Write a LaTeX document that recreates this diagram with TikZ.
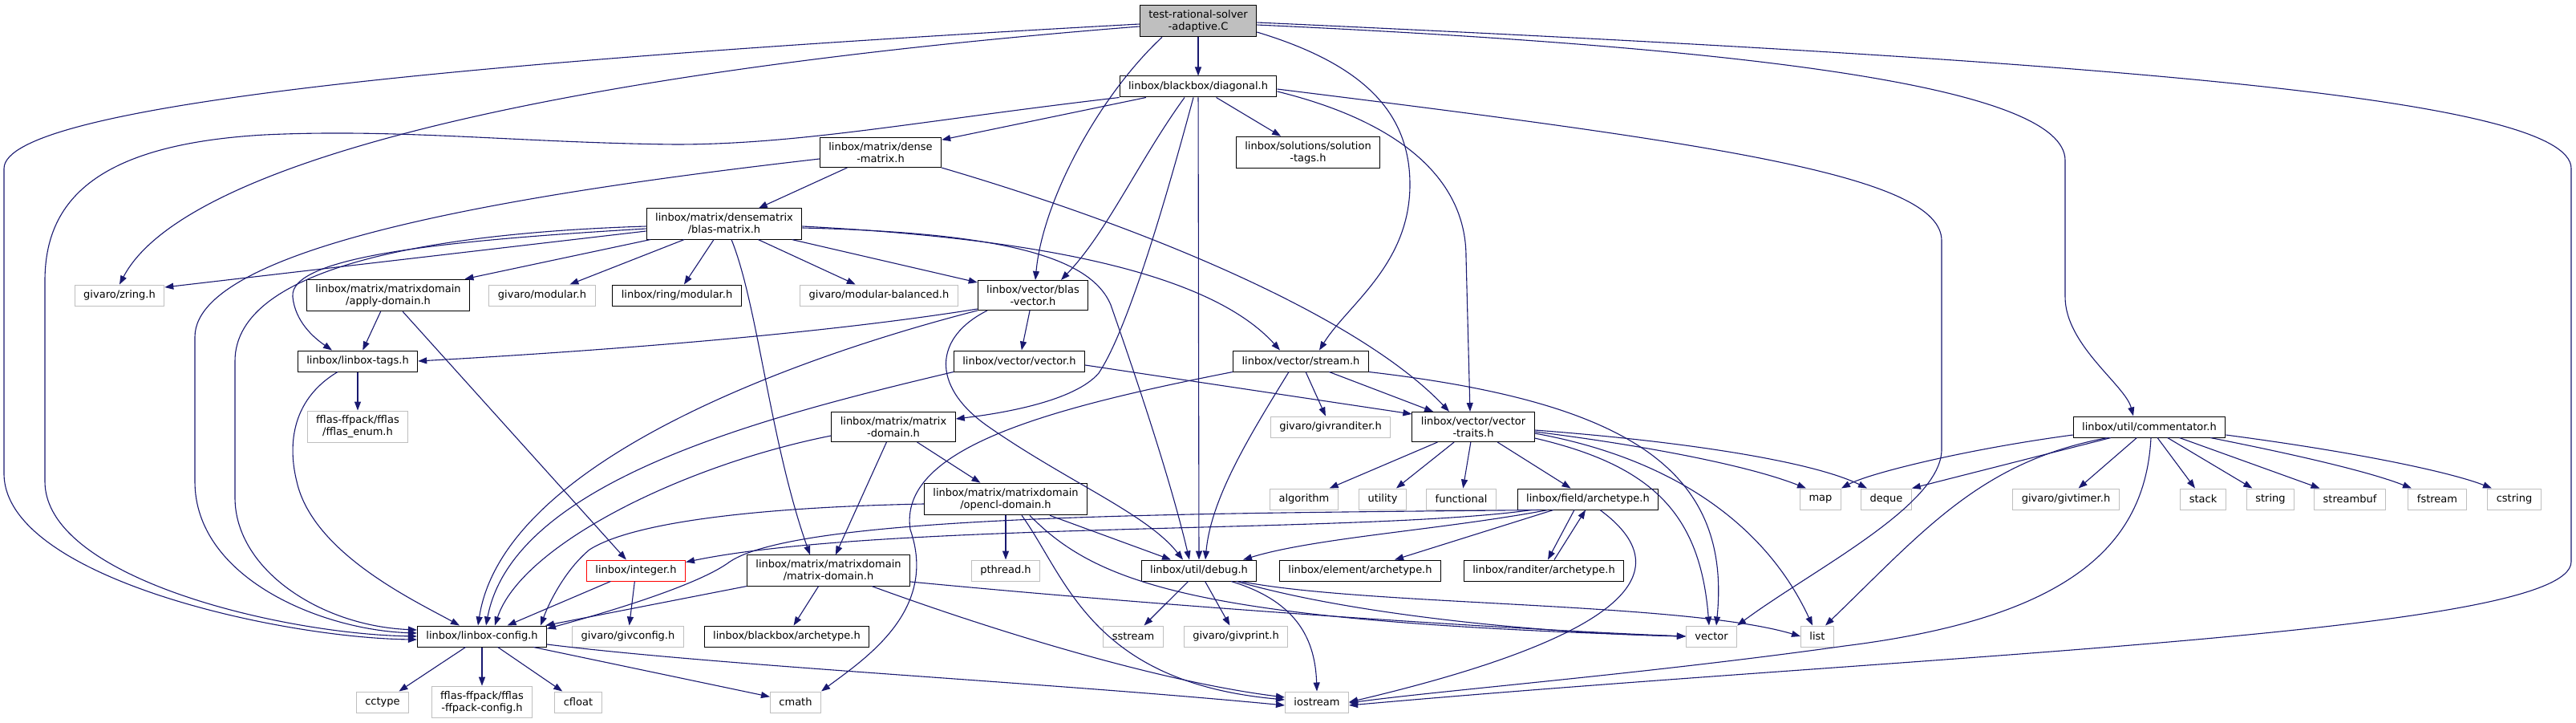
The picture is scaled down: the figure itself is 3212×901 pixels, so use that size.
\documentclass[tikz,border=0pt]{standalone}
\usepackage{fontspec}
\setmainfont{DejaVu Sans}
\usetikzlibrary{arrows.meta}
\definecolor{depblue}{HTML}{191970}
\definecolor{sysgrey}{HTML}{BFBFBF}

\begin{document}
\begin{tikzpicture}[x=1pt, y=-1pt,
	filebox/.style={draw=black, fill=white, line width=1pt, align=center, inner xsep=11pt, inner ysep=6pt, minimum height=26pt, font=\fontsize{13}{15}\selectfont},
	sysbox/.style={filebox, draw=sysgrey},
	dep/.style={draw=depblue, line width=1.1pt, -{Triangle[length=11pt, width=8pt]}}]
	\useasboundingbox (0,0) rectangle (3212,901);
	\node[filebox, fill=sysgrey] (root) at (1494,26) {test-rational-solver\\-adaptive.C};
	\node[filebox] (diag) at (1494,108) {linbox/blackbox/diagonal.h};
	\node[filebox] (dense) at (1098,190) {linbox/matrix/dense\\-matrix.h};
	\node[filebox] (soltags) at (1631,190) {linbox/solutions/solution\\-tags.h};
	\node[filebox] (blasm) at (903,279) {linbox/matrix/densematrix\\/blas-matrix.h};
	\node[sysbox] (zring) at (149,368) {givaro/zring.h};
	\node[filebox] (applyd) at (484,368) {linbox/matrix/matrixdomain\\/apply-domain.h};
	\node[sysbox] (gmod) at (676,368) {givaro/modular.h};
	\node[filebox] (rmod) at (844,368) {linbox/ring/modular.h};
	\node[sysbox] (gmodbal) at (1096,368) {givaro/modular-balanced.h};
	\node[filebox] (blasv) at (1288,368) {linbox/vector/blas\\-vector.h};
	\node[filebox] (tags) at (446,450) {linbox/linbox-tags.h};
	\node[filebox] (vectorh) at (1271,450) {linbox/vector/vector.h};
	\node[filebox] (stream) at (1622,450) {linbox/vector/stream.h};
	\node[sysbox] (enum) at (446,532) {fflas-ffpack/fflas\\/fflas\_enum.h};
	\node[filebox] (mdom) at (1114,532) {linbox/matrix/matrix\\-domain.h};
	\node[sysbox] (granditer) at (1659,532) {givaro/givranditer.h};
	\node[filebox] (vtraits) at (1837,532) {linbox/vector/vector\\-traits.h};
	\node[filebox] (comm) at (2680,532) {linbox/util/commentator.h};
	\node[filebox] (opencl) at (1254,622) {linbox/matrix/matrixdomain\\/opencl-domain.h};
	\node[sysbox] (algorithm) at (1626,622) {algorithm};
	\node[sysbox] (utility) at (1724,622) {utility};
	\node[sysbox] (functional) at (1822,622) {functional};
	\node[filebox] (farch) at (1980,622) {linbox/field/archetype.h};
	\node[sysbox] (map) at (2270,622) {map};
	\node[sysbox] (deque) at (2352,622) {deque};
	\node[sysbox] (givtimer) at (2576,622) {givaro/givtimer.h};
	\node[sysbox] (stack) at (2747,622) {stack};
	\node[sysbox] (string) at (2831,622) {string};
	\node[sysbox] (streambuf) at (2930,622) {streambuf};
	\node[sysbox] (fstream) at (3039,622) {fstream};
	\node[sysbox] (cstring) at (3135,622) {cstring};
	\node[filebox, draw=red] (integer) at (793,711) {linbox/integer.h};
	\node[filebox] (mdomain) at (1033,711) {linbox/matrix/matrixdomain\\/matrix-domain.h};
	\node[sysbox] (pthread) at (1254,711) {pthread.h};
	\node[filebox] (debug) at (1495,711) {linbox/util/debug.h};
	\node[filebox] (earch) at (1696,711) {linbox/element/archetype.h};
	\node[filebox] (rarch) at (1925,711) {linbox/randiter/archetype.h};
	\node[filebox] (config) at (601,793) {linbox/linbox-config.h};
	\node[sysbox] (givconfig) at (783,793) {givaro/givconfig.h};
	\node[filebox] (bbarch) at (981,793) {linbox/blackbox/archetype.h};
	\node[sysbox] (sstream) at (1413,793) {sstream};
	\node[sysbox] (givprint) at (1541,793) {givaro/givprint.h};
	\node[sysbox] (vector) at (2134,793) {vector};
	\node[sysbox] (list) at (2266,793) {list};
	\node[sysbox] (cctype) at (477,875) {cctype};
	\node[sysbox] (ffconfig) at (601,875) {fflas-ffpack/fflas\\-ffpack-config.h};
	\node[sysbox] (cfloat) at (721,875) {cfloat};
	\node[sysbox] (cmath) at (992,875) {cmath};
	\node[sysbox] (iostream) at (1642,875) {iostream};
	\draw[dep] (root) -- (diag);
	\draw[dep] ([yshift=-4pt]root.west) .. controls (600,75) and (5,130) .. (5,210) -- (5,590) .. controls (5,720) and (350,795) .. ([yshift=-4pt]config.west);
	\draw[dep] ([yshift=-7pt]root.west) .. controls (700,90) and (230,200) .. (zring.north);
	\draw[dep] ([xshift=-45pt]root.south) .. controls (1370,120) and (1300,250) .. ([xshift=3pt]blasv.north);
	\draw[dep] ([yshift=-14pt]root.east) .. controls (1700,80) and (1758,140) .. (1758,230) .. controls (1758,330) and (1680,380) .. ([xshift=23pt]stream.north);
	\draw[dep] ([yshift=-5pt]root.east) .. controls (2200,60) and (2575,110) .. (2575,200) -- (2575,370) .. controls (2575,430) and (2650,480) .. ([xshift=-20pt]comm.north);
	\draw[dep] ([yshift=-2pt]root.east) .. controls (2600,75) and (3206,120) .. (3206,210) -- (3206,700) .. controls (3206,790) and (2400,815) .. ([yshift=-4pt]iostream.east);
	\draw[dep] (diag) -- (dense);
	\draw[dep] (diag) -- (soltags);
	\draw[dep] ([xshift=-17pt]diag.south) .. controls (1420,200) and (1380,290) .. ([xshift=35pt]blasv.north);
	\draw[dep] ([xshift=-6pt]diag.south) .. controls (1440,300) and (1400,420) .. (1370,465) .. controls (1340,500) and (1250,515) .. ([yshift=10pt]mdom.east);
	\draw[dep] (diag) -- (debug);
	\draw[dep] ([yshift=-6pt]diag.east) .. controls (1740,150) and (1828,220) .. (1828,320) -- ([xshift=-4pt]vtraits.north);
	\draw[dep] ([yshift=-3pt]diag.east) .. controls (2150,180) and (2421,220) .. (2421,300) -- (2421,560) .. controls (2421,630) and (2260,710) .. (vector.north east);
	\draw[dep] (diag.south west) .. controls (1150,150) and (1000,180) .. (842,180) .. controls (650,178) and (500,160) .. (330,168) .. controls (120,180) and (56,250) .. (56,350) -- (56,600) .. controls (56,720) and (350,790) .. (config.west);
	\draw[dep] (dense) -- (blasm);
	\draw[dep] ([yshift=-8pt]dense.west) .. controls (700,235) and (243,300) .. (243,420) -- (243,600) .. controls (243,720) and (400,785) .. ([yshift=4pt]config.west);
	\draw[dep] (dense.south east) .. controls (1450,290) and (1700,400) .. ([xshift=-30pt]vtraits.north);
	\draw[dep] ([yshift=-9pt]blasm.west) -- ([yshift=10pt]zring.east);
	\draw[dep] ([yshift=-6pt]blasm.west) .. controls (550,300) and (360,320) .. (365,370) .. controls (368,400) and (390,420) .. ([xshift=-32pt]tags.north);
	\draw[dep] ([yshift=-3pt]blasm.west) .. controls (550,290) and (293,330) .. (293,450) -- (293,620) .. controls (293,710) and (400,780) .. ([yshift=8pt]config.west);
	\draw[dep] (blasm) -- (applyd);
	\draw[dep] (blasm) -- (gmod);
	\draw[dep] (blasm) -- (rmod);
	\draw[dep] ([xshift=9pt]blasm.south) .. controls (945,380) and (960,550) .. ([xshift=-23pt]mdomain.north);
	\draw[dep] (blasm) -- (gmodbal);
	\draw[dep] (blasm) -- (blasv);
	\draw[dep] ([yshift=-3pt]blasm.east) .. controls (1250,295) and (1500,330) .. ([xshift=-26pt]stream.north);
	\draw[dep] ([yshift=-5pt]blasm.east) .. controls (1250,290) and (1360,320) .. (1385,380) .. controls (1420,480) and (1460,600) .. ([xshift=-12pt]debug.north);
	\draw[dep] (applyd) -- (tags);
	\draw[dep] (applyd) -- (integer);
	\draw[dep] ([yshift=-17pt]blasv.west) .. controls (1000,420) and (700,440) .. (tags.east);
	\draw[dep] (blasv.south west) .. controls (1050,430) and (630,560) .. ([xshift=-5pt]config.north);
	\draw[dep] (blasv) -- (vectorh);
	\draw[dep] ([xshift=-57pt]blasv.south) .. controls (1165,420) and (1160,480) .. (1230,530) .. controls (1330,600) and (1430,640) .. ([xshift=-20pt]debug.north);
	\draw[dep] (tags) -- (enum);
	\draw[dep] ([xshift=-25pt]tags.south) .. controls (360,500) and (360,560) .. (370,600) .. controls (390,690) and (520,750) .. ([xshift=-28pt]config.north);
	\draw[dep] (vectorh.south west) .. controls (950,520) and (640,600) .. ([xshift=5pt]config.north);
	\draw[dep] ([yshift=-5pt]vectorh.east) -- ([yshift=-3pt]vtraits.north west);
	\draw[dep] (stream) -- (vtraits);
	\draw[dep] (stream) -- (granditer);
	\draw[dep] ([xshift=-15pt]stream.south) .. controls (1560,540) and (1510,620) .. ([xshift=8pt]debug.north);
	\draw[dep] (stream.south west) .. controls (1300,510) and (1120,560) .. (1135,660) .. controls (1170,760) and (1080,820) .. (cmath.north east);
	\draw[dep] (stream.south east) .. controls (2020,500) and (2160,580) .. ([xshift=6pt]vector.north);
	\draw[dep] (mdom) -- (opencl);
	\draw[dep] (mdom) -- (mdomain);
	\draw[dep] ([yshift=-11pt]mdom.west) .. controls (850,580) and (650,680) .. ([xshift=16pt]config.north);
	\draw[dep] (vtraits) -- (algorithm);
	\draw[dep] (vtraits) -- (utility);
	\draw[dep] (vtraits) -- (functional);
	\draw[dep] (vtraits) -- (farch);
	\draw[dep] ([yshift=-6pt]vtraits.east) .. controls (2050,555) and (2180,580) .. ([xshift=-18pt]map.north);
	\draw[dep] ([yshift=-4pt]vtraits.east) .. controls (2100,550) and (2260,575) .. ([xshift=-24pt]deque.north);
	\draw[dep] ([yshift=-8pt]vtraits.east) .. controls (2080,570) and (2200,650) .. ([xshift=-6pt]list.north);
	\draw[dep] ([yshift=-14pt]vtraits.east) .. controls (2060,580) and (2120,640) .. ([xshift=-3pt]vector.north);
	\draw[dep] ([yshift=-10pt]comm.west) .. controls (2450,560) and (2330,590) .. (map.north east);
	\draw[dep] ([xshift=-48pt]comm.south) -- (deque.north east);
	\draw[dep] (comm) -- (givtimer);
	\draw[dep] (comm) -- (stack);
	\draw[dep] (comm) -- (string);
	\draw[dep] (comm) -- (streambuf);
	\draw[dep] ([xshift=76pt]comm.south) .. controls (2880,570) and (2960,590) .. ([xshift=-32pt]fstream.north);
	\draw[dep] ([yshift=-10pt]comm.east) .. controls (2950,565) and (3060,590) .. ([xshift=-28pt]cstring.north);
	\draw[dep] ([xshift=-52pt]comm.south) .. controls (2470,575) and (2400,660) .. ([xshift=10pt]list.north);
	\draw[dep] ([xshift=2pt]comm.south) .. controls (2675,680) and (2580,770) .. (2300,805) .. controls (2050,840) and (1800,860) .. ([yshift=-1pt]iostream.east);
	\draw[dep] (opencl) -- (pthread);
	\draw[dep] ([xshift=55pt]opencl.south) -- ([xshift=-35pt]debug.north);
	\draw[dep] ([xshift=20pt]opencl.south) .. controls (1330,720) and (1360,850) .. ([yshift=3pt]iostream.west);
	\draw[dep] ([xshift=30pt]opencl.south) .. controls (1370,730) and (1500,775) .. (vector.west);
	\draw[dep] ([yshift=-6pt]opencl.west) .. controls (950,632) and (790,650) .. (735,685) .. controls (705,710) and (685,750) .. ([xshift=-8pt]config.north east);
	\draw[dep] ([xshift=-50pt]farch.south) .. controls (1800,660) and (1640,670) .. ([xshift=55pt]debug.north);
	\draw[dep] (farch) -- (earch);
	\draw[dep] ([xshift=-17pt]farch.south) -- ([xshift=5pt]rarch.north);
	\draw[dep] ([xshift=13pt]rarch.north) -- ([xshift=-3pt]farch.south);
	\draw[dep] ([xshift=-70pt]farch.south) .. controls (1700,665) and (1100,650) .. ([yshift=-3pt]integer.north east);
	\draw[dep] ([xshift=-60pt]farch.south) .. controls (1500,640) and (1000,640) .. (910,700) .. controls (870,730) and (750,765) .. ([yshift=-4pt]config.north east);
	\draw[dep] ([xshift=15pt]farch.south) .. controls (2110,720) and (2000,800) .. (iostream.east);
	\draw[dep] (integer) -- (config);
	\draw[dep] (integer) -- (givconfig);
	\draw[dep] (mdomain.south west) -- ([xshift=-2pt]config.north east);
	\draw[dep] (mdomain) -- (bbarch);
	\draw[dep] ([xshift=54pt]mdomain.south) .. controls (1250,790) and (1450,850) .. ([yshift=6pt]iostream.west);
	\draw[dep] ([yshift=-14pt]mdomain.east) .. controls (1500,760) and (1900,785) .. (vector.west);
	\draw[dep] (debug) -- (sstream);
	\draw[dep] (debug) -- (givprint);
	\draw[dep] ([xshift=40pt]debug.south) .. controls (1620,750) and (1640,800) .. (iostream.north);
	\draw[dep] ([xshift=47pt]debug.south) .. controls (1700,770) and (1950,790) .. (vector.west);
	\draw[dep] ([xshift=52pt]debug.south) .. controls (1700,755) and (2100,750) .. (list.west);
	\draw[dep] (config) -- (cctype);
	\draw[dep] (config) -- (ffconfig);
	\draw[dep] (config) -- (cfloat);
	\draw[dep] (config) -- (cmath);
	\draw[dep] ([yshift=-10pt]config.east) .. controls (900,830) and (1300,850) .. ([yshift=-4pt]iostream.west);
\end{tikzpicture}
\end{document}
